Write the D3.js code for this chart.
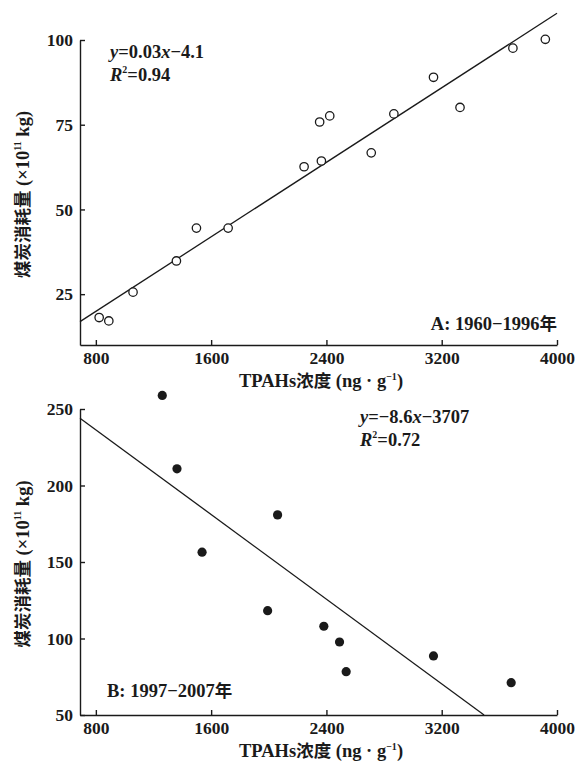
<!DOCTYPE html>
<html>
<head>
<meta charset="utf-8">
<script src="https://cdn.jsdelivr.net/npm/d3@7"></script>
<style>
  body { margin: 0; background: #fff; }
  svg text { font-family: "Liberation Serif", "Times New Roman", "Noto Sans CJK SC", serif; font-weight: bold; fill: #1a1a1a; }
  .cjk { font-family: "Noto Sans CJK SC", sans-serif; font-weight: bold; }
  .axis path, .axis line { stroke: #1a1a1a; stroke-width: 1.4; }
</style>
</head>
<body>
<div id="chart"></div>
<script>
// panel A: 1960-1996 (open circles)
const tpahsA = [823, 890, 1058, 1359, 1498, 1718, 2245, 2365, 2353, 2423, 2711, 2868, 3143, 3327, 3694, 3919];
const coalA  = [18.1, 17.1, 25.6, 34.8, 44.5, 44.5, 62.6, 64.3, 75.8, 77.6, 66.7, 78.2, 89.0, 80.1, 97.6, 100.2];
const fitA = [[690, 16.9], [4000, 107.9]];

// panel B: 1997-2007 (filled dots)
const tpahsB = [1261, 1363, 1537, 2061, 1992, 2382, 2491, 2537, 3143, 3682];
const coalB  = [258.9, 210.9, 156.4, 180.8, 118.2, 108.0, 97.7, 78.3, 88.6, 71.1];
const fitB = [[690, 244], [3494, 50]];

const xTicks = [800, 1600, 2400, 3200, 4000];
const yTicksA = [25, 50, 75, 100];
const yTicksB = [50, 100, 150, 200, 250];

const width = 578, height = 762;
const svg = d3.select('#chart').append('svg')
  .attr('width', width)
  .attr('height', height);

const fs = 18.5;     // text size
const cfs = 17.5;    // chinese glyphs

function drawPanel(props) {
  const { xs, ys, fit, yDomain, yTicks, top, bottom, filled, eq, r2, eqPos, tag, tagPos, tagAnchor } = props;

  const xScale = d3.scaleLinear().domain([690, 4000]).range([80, 557]);
  const yScale = d3.scaleLinear().domain(yDomain).range([bottom, top]);

  const g = svg.append('g');

  const xAxis = d3.axisBottom(xScale)
    .tickValues(xTicks)
    .tickFormat(d3.format('d'))
    .tickSizeInner(-5)
    .tickSizeOuter(0)
    .tickPadding(7);

  const yAxis = d3.axisLeft(yScale)
    .tickValues(yTicks)
    .tickFormat(d3.format('d'))
    .tickSizeInner(-5)
    .tickSizeOuter(0)
    .tickPadding(7);

  g.append('g')
    .attr('class', 'axis')
    .attr('transform', `translate(0,${bottom})`)
    .call(xAxis)
    .call(a => a.selectAll('text').attr('font-size', 17.5).attr('fill', '#1a1a1a'));

  g.append('g')
    .attr('class', 'axis')
    .attr('transform', `translate(80,0)`)
    .call(yAxis)
    .call(a => a.selectAll('text').attr('font-size', 17.5).attr('fill', '#1a1a1a'));

  // fit line
  g.append('path')
    .attr('fill', 'none')
    .attr('stroke', '#1a1a1a')
    .attr('stroke-width', 1.3)
    .attr('d', d3.line().x(d => xScale(d[0])).y(d => yScale(d[1]))(fit));

  // points
  g.selectAll('circle.pt')
    .data(xs.map((x, i) => [x, ys[i]]))
    .join('circle')
    .attr('class', 'pt')
    .attr('cx', d => xScale(d[0]))
    .attr('cy', d => yScale(d[1]))
    .attr('r', filled ? 4.6 : 4.2)
    .attr('fill', filled ? '#1a1a1a' : '#fff')
    .attr('stroke', '#1a1a1a')
    .attr('stroke-width', filled ? 0 : 1.3);

  // equation
  const eqT = g.append('text')
    .attr('x', eqPos[0]).attr('y', eqPos[1])
    .attr('font-size', fs);
  eqT.append('tspan').attr('font-style', 'italic').text('y');
  eqT.append('tspan').text(eq[0]);
  eqT.append('tspan').attr('font-style', 'italic').text('x');
  eqT.append('tspan').text(eq[1]);

  const r2T = g.append('text')
    .attr('x', eqPos[0]).attr('y', eqPos[1] + 23)
    .attr('font-size', fs);
  r2T.append('tspan').attr('font-style', 'italic').text('R');
  r2T.append('tspan').attr('font-size', 10).attr('dy', -8).text('2');
  r2T.append('tspan').attr('dy', 8).text('=' + r2);

  // period tag
  const tagT = g.append('text')
    .attr('x', tagPos[0]).attr('y', tagPos[1])
    .attr('text-anchor', tagAnchor)
    .attr('font-size', fs);
  tagT.append('tspan').text(tag);
  tagT.append('tspan').attr('class', 'cjk').attr('font-size', cfs).text('年');

  // x title
  const xt = g.append('text')
    .attr('x', 321).attr('y', bottom + 42)
    .attr('text-anchor', 'middle')
    .attr('font-size', fs);
  xt.append('tspan').text('TPAHs');
  xt.append('tspan').attr('class', 'cjk').attr('font-size', cfs).text('浓度');
  xt.append('tspan').text(' (ng · g');
  xt.append('tspan').attr('font-size', 10).attr('dy', -7).text('−1');
  xt.append('tspan').attr('dy', 7).text(')');

  // y title
  const yt = g.append('text')
    .attr('transform', `translate(29,${(top + bottom) / 2 + 2}) rotate(-90)`)
    .attr('text-anchor', 'middle')
    .attr('font-size', fs);
  yt.append('tspan').attr('class', 'cjk').attr('font-size', cfs).text('煤炭消耗量');
  yt.append('tspan').text(' (×10');
  yt.append('tspan').attr('font-size', 10).attr('dy', -8).text('11');
  yt.append('tspan').attr('dy', 8).text(' kg)');
}

drawPanel({
  xs: tpahsA, ys: coalA, fit: fitA,
  yDomain: [10, 100], yTicks: yTicksA,
  top: 40, bottom: 345, filled: false,
  eq: ['=0.03', '−4.1'], r2: '0.94', eqPos: [110, 58],
  tag: 'A: 1960−1996', tagPos: [557, 330], tagAnchor: 'end'
});

drawPanel({
  xs: tpahsB, ys: coalB, fit: fitB,
  yDomain: [50, 250], yTicks: yTicksB,
  top: 409, bottom: 715, filled: true,
  eq: ['=−8.6', '−3707'], r2: '0.72', eqPos: [360, 423],
  tag: 'B: 1997−2007', tagPos: [107, 697], tagAnchor: 'start'
});
</script>
</body>
</html>
